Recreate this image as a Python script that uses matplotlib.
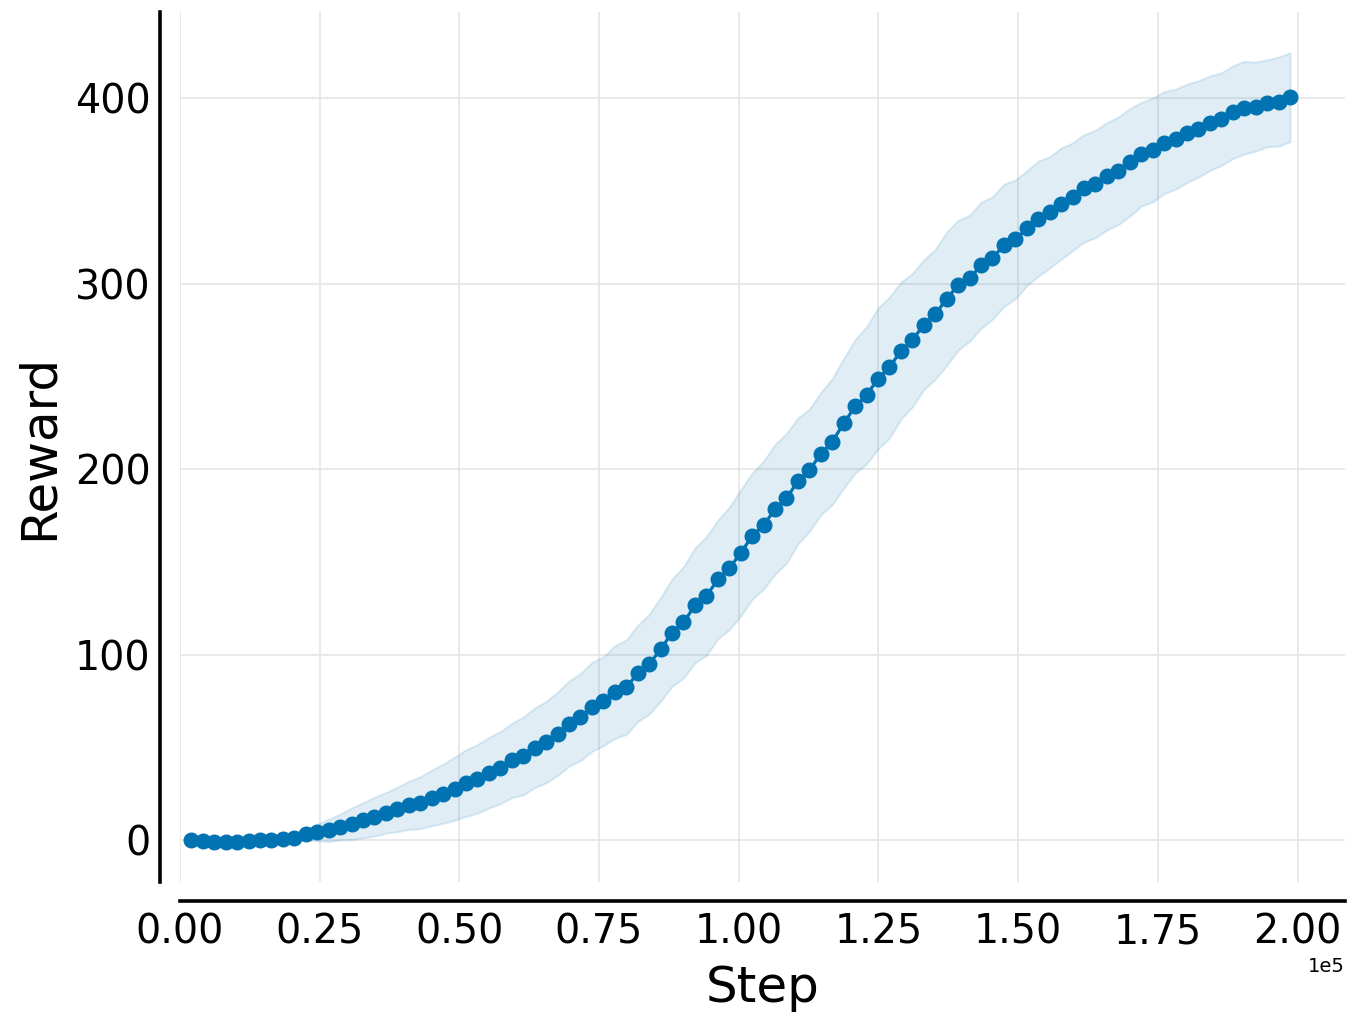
import numpy as np
import matplotlib
matplotlib.use("Agg")
import matplotlib.pyplot as plt

# environment steps (rollouts of 2048)
steps = [2048 * k for k in range(1, 98)]

# mean reward per checkpoint
reward_mean = [
    0.0, -0.5, -0.7, -0.7, -0.7, -0.5, 0.0, 0.0, 0.5, 1.4,
    3.2, 4.3, 5.4, 7.2, 9.0, 10.8, 12.8, 14.9, 16.7, 18.9,
    20.3, 22.9, 25.2, 27.9, 30.9, 33.2, 36.5, 39.2, 43.1, 45.5,
    50.0, 53.0, 57.5, 63.0, 66.5, 72.0, 75.0, 80.0, 82.6, 90.0,
    95.0, 103.0, 112.0, 117.5, 126.7, 131.7, 140.7, 146.6, 155.0, 164.0,
    170.0, 178.5, 184.4, 193.8, 199.5, 208.5, 215.0, 224.8, 234.0, 240.0,
    249.0, 255.0, 264.0, 269.7, 278.0, 283.6, 292.0, 299.3, 303.0, 310.0,
    314.0, 320.8, 324.0, 330.0, 335.2, 338.6, 343.3, 347.0, 351.5, 353.9,
    358.0, 361.0, 365.5, 369.9, 372.2, 376.2, 378.0, 381.2, 383.6, 386.7,
    388.8, 392.6, 395.0, 395.6, 397.4, 398.3, 400.6,
]

# half width of the shaded band (spread across seeds)
reward_spread = [
    0, 0, 0, 0, 0, 0, 0, 0, 1, 2,
    3, 4.5, 6, 7, 8.5, 9.5, 10.5, 11, 12, 13,
    14, 15, 16, 17, 18, 18.5, 19, 19.5, 20, 21,
    21.5, 22, 22.5, 23, 23.5, 24, 24, 25, 25.5, 26,
    27, 28, 29, 30, 31, 32, 32, 33, 34, 34,
    34.5, 35, 35, 34, 33, 33, 34, 35, 36, 37,
    38, 38, 37, 36, 35, 35, 36, 35, 34, 34,
    33, 33, 32, 31, 31, 30, 30, 29, 29, 29,
    29, 29, 29, 28, 28, 27.5, 27, 26.5, 26, 25.5,
    25, 25, 25, 24, 23.5, 24, 24,
]

x = np.array(steps)
y = np.array(reward_mean)
sd = np.array(reward_spread)

blue = "#0173b2"

fig = plt.figure(figsize=(13.58, 10.24), dpi=100)
ax = fig.add_axes([0.1325, 0.1387, 0.8579, 0.8496])

ax.fill_between(x, y - sd, y + sd, color=blue, alpha=0.12, linewidth=1.5)
ax.plot(x, y, color=blue, linewidth=2.3, marker="o", markersize=10.5)

ax.set_xlim(0, 208486)
ax.set_ylim(-22.4, 446.6)
ax.set_xticks([0, 25000, 50000, 75000, 100000, 125000, 150000, 175000, 200000])
ax.set_yticks([0, 100, 200, 300, 400])
ax.ticklabel_format(axis="x", style="sci", scilimits=(0, 0), useMathText=False)
ax.xaxis.get_offset_text().set_fontsize(14)

ax.grid(True, color="#e5e5e5", linewidth=1.2)
ax.set_axisbelow(True)

for side in ["top", "right"]:
    ax.spines[side].set_visible(False)
for side in ["left", "bottom"]:
    ax.spines[side].set_position(("outward", 14))
    ax.spines[side].set_linewidth(2.6)
    ax.spines[side].set_color("black")

ax.tick_params(axis="both", length=0, labelsize=28.5)
ax.tick_params(axis="x", pad=8)
ax.tick_params(axis="y", pad=7)

ax.set_xlabel("Step", fontsize=36, labelpad=8)
ax.set_ylabel("Reward", fontsize=36, labelpad=9)

fig.savefig("out.png", dpi=100)
